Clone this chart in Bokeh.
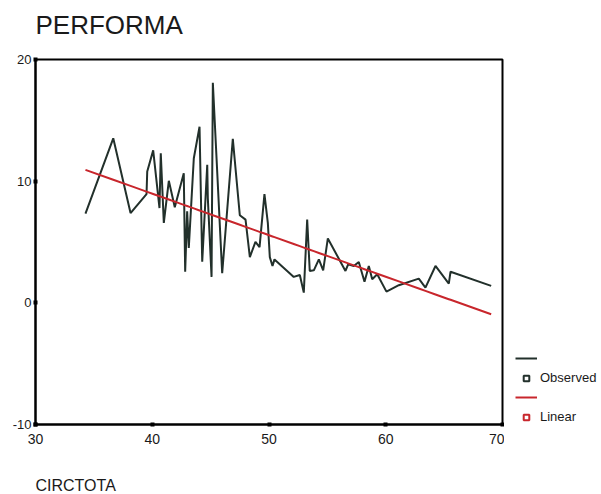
from bokeh.plotting import figure
from bokeh.layouts import row
from bokeh.models import (Range1d, FixedTicker, Title, Legend, LegendItem, ColumnDataSource,
                          PrintfTickFormatter)
from bokeh.embed import file_html
from bokeh.resources import INLINE

# ---- data ----
circtota = [34.28, 36.66, 38.14, 39.51, 39.57, 40.08, 40.62, 40.73, 40.99, 41.42,
            41.93, 42.70, 42.82, 42.99, 43.13, 43.56, 44.05, 44.28, 44.71, 44.76,
            45.08, 45.19, 45.99, 46.90, 47.50, 47.99, 48.36, 48.84, 49.19, 49.61,
            49.90, 50.07, 50.30, 50.47, 52.12, 52.64, 52.98, 53.27, 53.49, 53.84,
            54.27, 54.64, 55.04, 56.55, 56.78, 57.26, 57.69, 58.18, 58.55, 58.84,
            59.27, 60.06, 61.12, 62.83, 63.40, 64.26, 65.40, 65.55, 69.03]
performa = [7.33, 13.52, 7.38, 8.94, 10.79, 12.53, 7.79, 12.29, 6.57, 10.03,
            7.85, 10.65, 2.56, 7.52, 4.52, 11.88, 14.47, 3.38, 11.34, 8.61,
            2.13, 18.09, 2.43, 13.47, 7.20, 6.84, 3.76, 5.01, 4.58, 8.94,
            6.57, 3.76, 3.03, 3.57, 2.13, 2.29, 0.84, 6.84, 2.62, 2.67,
            3.57, 2.67, 5.29, 2.62, 3.16, 3.03, 3.35, 1.74, 3.03, 1.94,
            2.35, 0.92, 1.45, 1.99, 1.25, 3.03, 1.58, 2.56, 1.39]
fit_intercept = 22.64
fit_slope = -0.3416
x_ticks = [30, 40, 50, 60, 70]
y_ticks = [-10, 0, 10, 20]
title_text = "PERFORMA"
x_label = "CIRCTOTA"
series_names = ["Observed", "Linear"]

linear = [fit_intercept + fit_slope * x for x in circtota]
src = ColumnDataSource(dict(x=circtota, obs=performa, fit=linear))

FONT = "Liberation Sans"
OBS_COLOR = "#22302b"
FIT_COLOR = "#c8262c"
H = 494

p = figure(width=504, height=H, x_range=Range1d(30, 70), y_range=Range1d(-10, 20),
           output_backend="svg", toolbar_location=None,
           min_border_left=35, min_border_right=2, min_border_top=57, min_border_bottom=70)

p.title.text = title_text
p.title.align = "left"
p.title.text_font = FONT
p.title.text_font_size = "26px"
p.title.text_font_style = "normal"
p.title.text_color = "#1a1a1a"
p.title.standoff = 14
# blank spacer between the title and the frame
p.add_layout(Title(text=" ", text_font_size="1px", standoff=10), "above")

# blank spacer between the x axis and its label, then the label itself
p.add_layout(Title(text=" ", text_font_size="1px", standoff=25), "below")
p.add_layout(Title(text=x_label, align="left", text_font=FONT, text_font_size="16px",
                   text_font_style="normal", text_color="#1a1a1a", standoff=0), "below")

p.xgrid.visible = False
p.ygrid.visible = False
p.outline_line_color = "black"
p.outline_line_width = 2
p.background_fill_color = "white"
p.border_fill_color = "white"

for ax in (p.xaxis[0], p.yaxis[0]):
    ax.axis_line_color = "black"
    ax.axis_line_width = 2
    ax.major_tick_line_color = "black"
    ax.major_tick_line_width = 4
    ax.major_tick_in = 2
    ax.major_tick_out = 2
    ax.minor_tick_line_color = None
    ax.major_label_text_font = FONT
    ax.major_label_text_color = "#1a1a1a"
    ax.formatter = PrintfTickFormatter(format="%d")

p.xaxis[0].ticker = FixedTicker(ticks=x_ticks)
p.yaxis[0].ticker = FixedTicker(ticks=y_ticks)
p.xaxis[0].major_label_text_font_size = "14px"
p.yaxis[0].major_label_text_font_size = "13px"
p.xaxis[0].major_label_standoff = 7
p.yaxis[0].major_label_standoff = 2

p.line("x", "obs", source=src, line_color=OBS_COLOR, line_width=2)
p.line("x", "fit", source=src, line_color=FIT_COLOR, line_width=2)

# ---- legend panel (separate small figure to the right of the frame) ----
lg = figure(width=96, height=H, x_range=Range1d(0, 1), y_range=Range1d(0, 1),
            output_backend="svg", toolbar_location=None,
            min_border_left=0, min_border_right=0, min_border_top=57, min_border_bottom=70)
lg.axis.visible = False
lg.grid.visible = False
lg.outline_line_color = None
lg.background_fill_color = "white"
lg.border_fill_color = "white"
# one off-range row so the legend swatches get their styles (nothing is drawn in view)
swatch = ColumnDataSource(dict(x=[5], y=[5]))
l_obs = lg.line("x", "y", source=swatch, line_color=OBS_COLOR, line_width=2)
s_obs = lg.scatter("x", "y", source=swatch, marker="square", size=7,
                   fill_color="white", line_color=OBS_COLOR, line_width=2)
l_fit = lg.line("x", "y", source=swatch, line_color=FIT_COLOR, line_width=2)
s_fit = lg.scatter("x", "y", source=swatch, marker="square", size=7,
                   fill_color="white", line_color=FIT_COLOR, line_width=2)

legend = Legend(items=[
    LegendItem(label=" ", renderers=[l_obs]),
    LegendItem(label=series_names[0], renderers=[s_obs]),
    LegendItem(label=" ", renderers=[l_fit]),
    LegendItem(label=series_names[1], renderers=[s_fit])
], location=(11, 0))
legend.border_line_color = None
legend.background_fill_alpha = 0
legend.glyph_width = 22
legend.glyph_height = 14
legend.label_height = 14
legend.label_standoff = 3
legend.spacing = 5
legend.padding = 0
legend.margin = 0
legend.label_text_font = FONT
legend.label_text_font_size = "13px"
legend.label_text_color = "#1a1a1a"
lg.add_layout(legend)

layout = row(p, lg, spacing=0)
open("out.html", "w").write(file_html(layout, INLINE))
